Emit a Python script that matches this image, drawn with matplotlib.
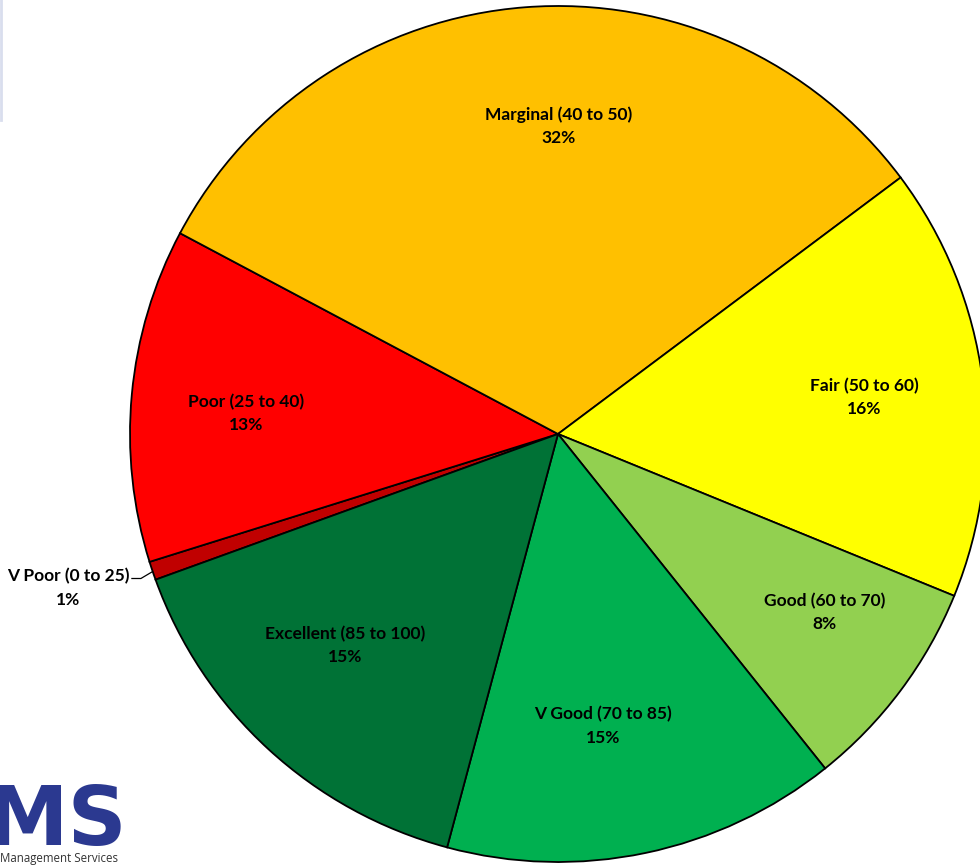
import numpy as np
import matplotlib
matplotlib.use("Agg")
import matplotlib.pyplot as plt

categories = ["V Poor (0 to 25)", "Poor (25 to 40)", "Marginal (40 to 50)", "Fair (50 to 60)",
              "Good (60 to 70)", "V Good (70 to 85)", "Excellent (85 to 100)"]
shares = [0.7, 12.6, 32.0, 16.4, 8.1, 14.9, 15.3]
colors = ["#C00000", "#FF0000", "#FFC000", "#FFFF00", "#92D050", "#00B050", "#007236"]

W, H = 980, 865
fig = plt.figure(figsize=(W / 100, H / 100), dpi=100)
ax = fig.add_axes([0, 0, 1, 1])
cx, cy, R = 558, 434, 428

start = 199.9
wedges, _ = ax.pie(shares, colors=colors, startangle=start, counterclock=False,
                   radius=1.0, center=(0, 0), frame=True,
                   wedgeprops=dict(edgecolor="black", linewidth=1.3))
ax.set_xlim(-cx / R, (W - cx) / R)
ax.set_ylim(-(H - cy) / R, cy / R)
ax.set_aspect("auto")
ax.axis("off")

total = sum(shares)
font = dict(family=["Lato", "DejaVu Sans"], fontweight="bold", fontsize=12.5, color="black")
dist = [1.2, 0.73, 0.72, 0.72, 0.75, 0.69, 0.70]
angle_adj = [-1.2, 1.5, -4.5, -0.5, 3, -3, -2.6]
for i, w in enumerate(wedges):
    mid = np.deg2rad((w.theta1 + w.theta2) / 2 + angle_adj[i])
    pct = round(shares[i] / total * 100)
    txt = f"{categories[i]}\n{pct}%"
    x, y = dist[i] * np.cos(mid), dist[i] * np.sin(mid)
    ax.text(x, y, txt, ha="center", va="center", linespacing=1.55, **font)
    if i == 0:
        m0 = np.deg2rad((w.theta1 + w.theta2) / 2)
        ex, ey = np.cos(m0), np.sin(m0)
        ax.plot([ex, ex - 0.027, ex - 0.048], [ey - 0.002, ey - 0.018, ey - 0.018],
                color="black", lw=0.9)

# logo at bottom-left
fig.text(127 / W, 1 - 845 / H, "MS", ha="right", va="baseline", fontsize=59,
         fontweight="bold", family=["DejaVu Sans"], color="#2B3990")
fig.text(0.0, 1 - 862 / H, "Management Services", ha="left", va="baseline",
         fontsize=8.3, family=["Open Sans", "DejaVu Sans"], color="#333333")
# faint edge line at top left
fig.add_artist(plt.Line2D([1 / W, 1 / W], [1, 1 - 120 / H], color="#D9DEEE", lw=2))

fig.savefig("out.png", dpi=100)
